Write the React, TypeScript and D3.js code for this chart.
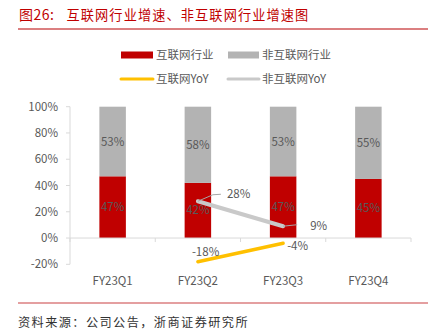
import React from "react";
import * as d3 from "d3";

const categories = ["FY23Q1", "FY23Q2", "FY23Q3", "FY23Q4"];
const internetShare = [0.47, 0.42, 0.47, 0.45];
const nonInternetShare = [0.53, 0.58, 0.53, 0.55];
const internetYoY: (number | null)[] = [null, -0.18, -0.04, null];
const nonInternetYoY: (number | null)[] = [null, 0.28, 0.09, null];
const yTicks = [-0.2, 0, 0.2, 0.4, 0.6, 0.8, 1.0];

const FONT = "'Noto Sans CJK SC', 'Open Sans', sans-serif";
const TXT = "#595959";
const RED = "#C00000";
const GRAY = "#B3B3B3";
const YEL = "#FFC000";
const LGRAY = "#C9C9C9";

export default function App() {
  const W = 435, H = 336;
  const x = d3.scaleBand<string>().domain(categories).range([70, 411]).paddingInner(0).paddingOuter(0);
  const y = d3.scaleLinear().domain([-0.2, 1]).range([264.3, 106.7]);
  const bw = 26.5;
  const pct = (v: number) => `${Math.round(v * 100)}%`;
  const cx = (c: string) => (x(c) as number) + x.bandwidth() / 2;

  const lineGen = d3.line<[string, number | null]>()
    .defined((d) => d[1] !== null)
    .x((d) => cx(d[0]))
    .y((d) => y(d[1] as number));

  const intPts = categories.map((c, i) => [c, internetYoY[i]] as [string, number | null]);
  const nonPts = categories.map((c, i) => [c, nonInternetYoY[i]] as [string, number | null]);

  return (
    <svg width={W} height={H} style={{ position: "absolute", left: 0, top: 0, background: "#fff" }} fontFamily={FONT}>
      {/* Title */}
      <text x={19} y={20} fill={RED} fontSize={14} style={{ letterSpacing: "0.5px" }}>图26:</text>
      <text x={66.5} y={20} fill={RED} fontSize={13.2} style={{ letterSpacing: "1.1px" }}>互联网行业增速、非互联网行业增速图</text>
      <line x1={18} x2={428} y1={29} y2={29} stroke="#DB7F80" strokeWidth={2} />

      {/* Legend */}
      <rect x={121} y={51.5} width={32} height={7} fill={RED} />
      <text x={156} y={59} fill={TXT} fontSize={11.5}>互联网行业</text>
      <rect x={228} y={51.5} width={31} height={7} fill={GRAY} />
      <text x={262} y={59} fill={TXT} fontSize={11.5}>非互联网行业</text>
      <line x1={121} x2={153} y1={79} y2={79} stroke={YEL} strokeWidth={3} strokeLinecap="round" />
      <text x={156} y={83} fill={TXT} fontSize={11.5}>互联网YoY</text>
      <line x1={228} x2={259} y1={79} y2={79} stroke={LGRAY} strokeWidth={3} strokeLinecap="round" />
      <text x={262} y={83} fill={TXT} fontSize={11.5}>非互联网YoY</text>

      {/* Y axis */}
      <line x1={70} x2={70} y1={y(1)} y2={y(-0.2)} stroke="#D9D9D9" strokeWidth={1} />
      {yTicks.map((t) => (
        <g key={t}>
          <line x1={66} x2={70} y1={y(t)} y2={y(t)} stroke="#D9D9D9" />
          <text x={58} y={y(t) + 4} textAnchor="end" fill={TXT} fontSize={11.5}>{pct(t)}</text>
        </g>
      ))}

      {/* Bars */}
      {categories.map((c, i) => {
        const a = internetShare[i];
        const b = nonInternetShare[i];
        const x0 = cx(c) - bw / 2;
        return (
          <g key={c}>
            <rect x={x0} y={y(a)} width={bw} height={y(0) - y(a)} fill={RED} />
            <rect x={x0} y={y(a + b)} width={bw} height={y(a) - y(a + b)} fill={GRAY} />
            <text x={cx(c)} y={(y(0) + y(a)) / 2 + 4} textAnchor="middle" fill={TXT} fontSize={11.5}>{pct(a)}</text>
            <text x={cx(c)} y={(y(a) + y(a + b)) / 2 + 4} textAnchor="middle" fill={TXT} fontSize={11.5}>{pct(b)}</text>
          </g>
        );
      })}

      {/* X axis */}
      <line x1={70} x2={411} y1={y(0)} y2={y(0)} stroke="#D9D9D9" />
      {[...categories.map((c) => x(c) as number), 411].map((t, i) => (
        <line key={i} x1={t} x2={t} y1={y(0)} y2={y(0) + 4} stroke="#D9D9D9" />
      ))}
      {categories.map((c) => (
        <text key={c} x={cx(c)} y={285} textAnchor="middle" fill={TXT} fontSize={11.5}>{c}</text>
      ))}

      {/* Lines */}
      <path d={lineGen(nonPts) || ""} fill="none" stroke={LGRAY} strokeWidth={4} strokeLinecap="round" />
      <path d={lineGen(intPts) || ""} fill="none" stroke={YEL} strokeWidth={3.5} strokeLinecap="round" />

      {/* Line labels */}
      {(() => {
        const p1x = cx(categories[1]), p1y = y(nonInternetYoY[1] as number);
        const p2x = cx(categories[2]), p2y = y(nonInternetYoY[2] as number);
        const q1x = cx(categories[1]), q1y = y(internetYoY[1] as number);
        const q2x = cx(categories[2]), q2y = y(internetYoY[2] as number);
        return (
          <g>
            <polyline points={`${p1x},${p1y} ${p1x + 15},${p1y - 6.5} ${p1x + 23},${p1y - 7}`} fill="none" stroke="#A6A6A6" strokeWidth={1} />
            <text x={p1x + 29} y={p1y - 3} fill={TXT} fontSize={11.5}>{pct(nonInternetYoY[1] as number)}</text>
            <polyline points={`${p2x},${p2y} ${p2x + 14},${p2y - 1.5}`} fill="none" stroke="#A6A6A6" strokeWidth={1} />
            <text x={p2x + 27} y={p2y + 4} fill={TXT} fontSize={11.5}>{pct(nonInternetYoY[2] as number)}</text>
            <text x={q1x - 6} y={q1y - 6} fill={TXT} fontSize={11.5}>{pct(internetYoY[1] as number)}</text>
            <text x={q2x + 4} y={q2y + 7} fill={TXT} fontSize={11.5}>{pct(internetYoY[2] as number)}</text>
          </g>
        );
      })()}

      {/* Footer */}
      <line x1={18} x2={428} y1={303} y2={303} stroke="#DB7F80" strokeWidth={1.3} />
      <text x={18} y={327} fill="#333" fontSize={12.2} style={{ letterSpacing: "1.4px" }}>资料来源：公司公告，浙商证券研究所</text>
    </svg>
  );
}
